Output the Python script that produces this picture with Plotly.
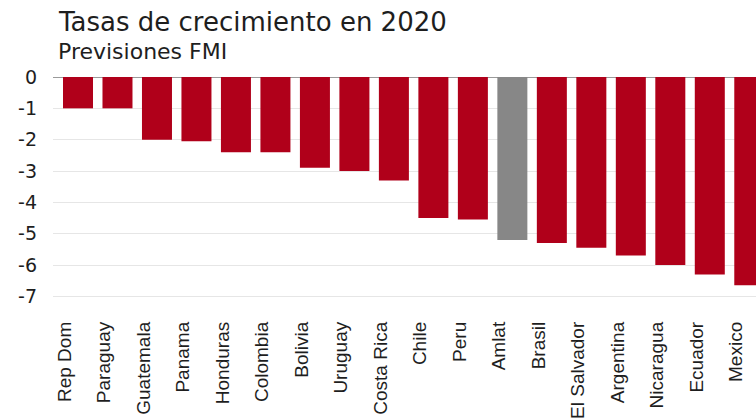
import plotly.graph_objects as go

# IMF growth forecasts for 2020 (%)
countries = ["Rep Dom", "Paraguay", "Guatemala", "Panama", "Honduras", "Colombia",
             "Bolivia", "Uruguay", "Costa Rica", "Chile", "Peru", "Amlat", "Brasil",
             "El Salvador", "Argentina", "Nicaragua", "Ecuador", "Mexico"]
growth = [-1.0, -1.0, -2.0, -2.05, -2.4, -2.4, -2.9, -3.0, -3.3, -4.5, -4.55, -5.2,
          -5.3, -5.45, -5.7, -6.0, -6.3, -6.65]
aggregate = "Amlat"
y_ticks = [0, -1, -2, -3, -4, -5, -6, -7]

RED = "#B0001A"
GREY = "#878787"
FONT = "Liberation Sans, Arial, sans-serif"
WIDE_FONT = "DejaVu Sans, Verdana, sans-serif"

W, H = 756, 419
M_L, M_R, M_T, M_B = 53, 0, 77, 103
plot_h = H - M_T - M_B


def paper_y(py):
    """Convert a pixel row (from the top) to paper coordinates."""
    return (H - M_B - py) / plot_h


positions = list(range(len(countries)))
colors = [GREY if c == aggregate else RED for c in countries]
# labels sit slightly left of their bar
label_pos = [p - 0.34 for p in positions]

fig = go.Figure(
    go.Bar(
        x=positions,
        y=growth,
        marker=dict(color=colors, line=dict(width=0)),
        hoverinfo="skip",
    )
)

fig.update_layout(
    width=W,
    height=H,
    margin=dict(l=M_L, r=M_R, t=M_T, b=M_B),
    paper_bgcolor="white",
    plot_bgcolor="white",
    bargap=0.24,
    showlegend=False,
    font=dict(family=FONT, color="#222222"),
    annotations=[
        dict(text="Tasas de crecimiento en 2020", xref="paper", yref="paper",
             x=3 / (W - M_L - M_R), y=paper_y(21), xanchor="left", yanchor="middle",
             showarrow=False, font=dict(size=26, color="#1e1e1e", family=WIDE_FONT)),
        dict(text="Previsiones FMI", xref="paper", yref="paper",
             x=3 / (W - M_L - M_R), y=paper_y(51), xanchor="left", yanchor="middle",
             showarrow=False, font=dict(size=22, color="#1e1e1e", family=WIDE_FONT)),
    ],
)

fig.update_xaxes(
    range=[-0.633, 17.17],
    tickmode="array",
    tickvals=label_pos,
    ticktext=countries,
    tickangle=-90,
    tickfont=dict(size=19, color="#1e1e1e"),
    showgrid=False,
    zeroline=False,
    showline=False,
    ticks="",
    ticklabelstandoff=5,
)

fig.update_yaxes(
    range=[-7.5, 0],
    tickmode="array",
    tickvals=y_ticks,
    ticktext=[str(v) for v in y_ticks],
    tickfont=dict(size=19, color="#1e1e1e", family=WIDE_FONT),
    showgrid=True,
    gridcolor="#e6e6e6",
    gridwidth=1,
    zeroline=True,
    zerolinecolor="#9a9a9a",
    zerolinewidth=1,
    showline=False,
    ticks="",
    ticklabelstandoff=15,
)

fig.write_html("out.html")
